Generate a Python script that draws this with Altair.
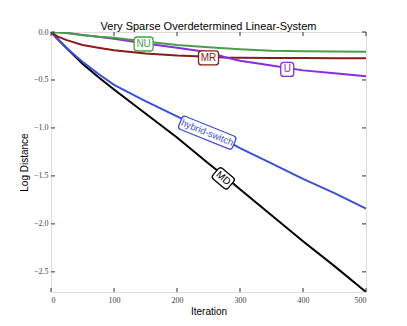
import altair as alt
import pandas as pd

# ---- data ----
iterations = [0, 10, 25, 50, 75, 100, 150, 200, 250, 275, 300, 350, 400, 450, 500]
md_vals = [0, -0.07, -0.17, -0.33, -0.47, -0.60, -0.85, -1.10, -1.37, -1.50, -1.64, -1.91, -2.18, -2.44, -2.71]
hybrid_vals = [0, -0.07, -0.17, -0.31, -0.435, -0.55, -0.72, -0.88, -1.04, -1.12, -1.21, -1.37, -1.53, -1.68, -1.84]
mr_vals = [0, -0.045, -0.085, -0.135, -0.165, -0.19, -0.223, -0.245, -0.258, -0.265, -0.268, -0.27, -0.272, -0.273, -0.274]
u_vals = [0, -0.003, -0.01, -0.03, -0.05, -0.07, -0.12, -0.165, -0.21, -0.26, -0.30, -0.35, -0.40, -0.43, -0.46]
nu_vals = [0, -0.003, -0.01, -0.035, -0.05, -0.06, -0.10, -0.135, -0.16, -0.17, -0.18, -0.195, -0.20, -0.204, -0.207]

series_names = ["MD", "hybrid-switch", "MR", "U", "NU"]
series_colors = ["#000000", "#3b50d2", "#8b1a1a", "#8a2be2", "#4a9e4a"]
series_values = [md_vals, hybrid_vals, mr_vals, u_vals, nu_vals]

label_iter = [147, 250, 375, 248, 273.5]
label_value = [-0.125, -0.27, -0.39, -1.05, -1.525]
label_text = ["NU", "MR", "U", "hybrid-switch", "MD"]
label_angle = [0, 0, 0, 22, 40]

x_ticks = [0, 100, 200, 300, 400, 500]
y_ticks = [0.0, -0.5, -1.0, -1.5, -2.0, -2.5]

W, H = 315, 260
color_of = dict(zip(series_names, series_colors))

xscale = alt.Scale(domain=[0, 500], nice=False, zero=False)
yscale = alt.Scale(domain=[-2.71, 0], nice=False, zero=False)

xaxis = alt.Axis(values=x_ticks, title="Iteration", ticks=False, domain=False, grid=False,
                 labelFont="Liberation Serif", labelFontSize=8, labelColor="#444",
                 labelPadding=4, titleFont="Liberation Sans", titleFontSize=10,
                 titleFontWeight="normal", titleColor="#000", titlePadding=2)
yaxis = alt.Axis(values=y_ticks, format=".1f", title="Log Distance", ticks=False, domain=False,
                 grid=False, labelFont="Liberation Serif", labelFontSize=8, labelColor="#444",
                 labelPadding=3, titleFont="Liberation Sans", titleFontSize=10,
                 titleFontWeight="normal", titleColor="#000", titlePadding=4)


def X(field):
    return alt.X(field, scale=xscale, axis=xaxis)


def Y(field):
    return alt.Y(field, scale=yscale, axis=yaxis)


layers = []
for name, vals in zip(series_names, series_values):
    d = pd.DataFrame({"iteration": iterations, "value": vals})
    layers.append(alt.Chart(d).mark_line(color=color_of[name], strokeWidth=2, clip=True)
                  .encode(x=X("iteration:Q"), y=Y("value:Q")))

# inward ticks on four sides
xt = pd.DataFrame({"t": x_ticks})
yt = pd.DataFrame({"t": y_ticks})
tick_style = dict(color="#333", strokeWidth=1)
layers.append(alt.Chart(xt).mark_rule(**tick_style).encode(
    x=X("t:Q"), y=alt.value(H), y2=alt.value(H - 4)))
layers.append(alt.Chart(xt).mark_rule(**tick_style).encode(
    x=X("t:Q"), y=alt.value(0), y2=alt.value(4)))
layers.append(alt.Chart(yt).mark_rule(**tick_style).encode(
    y=Y("t:Q"), x=alt.value(0), x2=alt.value(4)))
layers.append(alt.Chart(yt).mark_rule(**tick_style).encode(
    y=Y("t:Q"), x=alt.value(W), x2=alt.value(W - 4)))


def rounded_box(w, h, r=3):
    a, b = w / 2, h / 2
    return (f"M{-a + r},{-b} L{a - r},{-b} A{r},{r} 0 0 1 {a},{-b + r} "
            f"L{a},{b - r} A{r},{r} 0 0 1 {a - r},{b} L{-a + r},{b} "
            f"A{r},{r} 0 0 1 {-a},{b - r} L{-a},{-b + r} A{r},{r} 0 0 1 {-a + r},{-b} Z")


char_w = {"hybrid-switch": 53, "NU": 14, "MR": 15, "U": 8, "MD": 15}
lab = pd.DataFrame({
    "text": label_text,
    "iteration": label_iter,
    "value": label_value,
    "angle": label_angle,
})
lab["color"] = [color_of[t] for t in label_text]
lab["shape"] = [rounded_box(char_w[t] + 5, 14) for t in label_text]
lab["fs"] = [9.5 if t == "hybrid-switch" else 10 for t in label_text]

layers.append(alt.Chart(lab).mark_point(filled=True, fill="white", strokeWidth=1.3,
                                        opacity=1, fillOpacity=1).encode(
    x=X("iteration:Q"),
    y=Y("value:Q"),
    shape=alt.Shape("shape:N", scale=None),
    angle=alt.Angle("angle:Q", scale=None),
    stroke=alt.Stroke("color:N", scale=None),
    size=alt.value(4),
))
layers.append(alt.Chart(lab).mark_text(font="Liberation Sans", align="center",
                                       baseline="middle").encode(
    x=X("iteration:Q"),
    y=Y("value:Q"),
    text="text:N",
    angle=alt.Angle("angle:Q", scale=None),
    color=alt.Color("color:N", scale=None),
    size=alt.Size("fs:Q", scale=None),
))

chart = alt.layer(*layers).properties(
    width=W, height=H,
    title=alt.TitleParams("Very Sparse Overdetermined Linear-System", font="Liberation Sans",
                          fontSize=11, fontWeight="normal", color="#000", offset=-4),
    autosize=alt.AutoSizeParams(type="none"),
    padding={"left": 43, "top": 24, "right": 33, "bottom": 26},
).configure_view(stroke="#222", strokeWidth=1).configure(background="white")

chart.save("out.html", embed_options={"renderer": "svg", "actions": False})
